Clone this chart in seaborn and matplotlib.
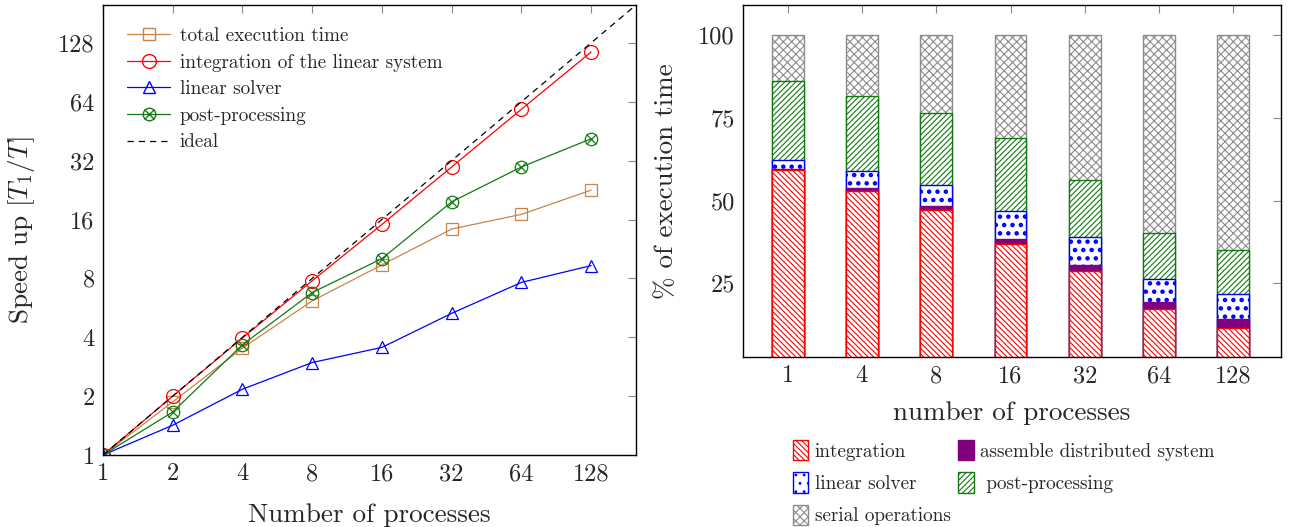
import numpy as np
import pandas as pd
import matplotlib
matplotlib.use("Agg")
import matplotlib.pyplot as plt
import seaborn as sns
from matplotlib.lines import Line2D
from matplotlib.patches import Patch
from matplotlib.legend_handler import HandlerTuple

# ---------------- data ----------------
processes = [1, 2, 4, 8, 16, 32, 64, 128]
speedup_total = [1.0, 1.87, 3.52, 6.14, 9.38, 14.3, 17.0, 22.6]
speedup_integration = [1.0, 2.0, 3.97, 7.78, 15.1, 29.7, 58.6, 115.0]
speedup_solver = [1.0, 1.42, 2.17, 2.97, 3.55, 5.3, 7.63, 9.3]
speedup_post = [1.0, 1.66, 3.66, 6.77, 10.1, 19.7, 29.7, 41.4]
ideal_range = [1, 200]
speedup_ticks = [1, 2, 4, 8, 16, 32, 64, 128]

bar_procs = ["1", "4", "8", "16", "32", "64", "128"]
pct_integration = [59.1, 53.0, 47.0, 37.0, 28.7, 17.3, 11.7]
pct_assemble = [0.4, 0.9, 1.3, 1.5, 1.8, 2.0, 2.6]
pct_solver = [2.7, 4.9, 6.4, 8.3, 8.5, 7.0, 7.6]
pct_post = [24.0, 22.8, 21.6, 22.2, 17.3, 13.8, 13.1]
pct_serial = [13.8, 18.4, 23.7, 31.0, 43.7, 59.9, 65.0]
pct_ticks = [25, 50, 75, 100]

# ---------------- style ----------------
sns.set_style("white")
plt.rcParams["font.family"] = ["cmr10", "DejaVu Serif"]
plt.rcParams["mathtext.fontset"] = "cm"
plt.rcParams["axes.unicode_minus"] = False
plt.rcParams["hatch.linewidth"] = 0.8
plt.rcParams["axes.edgecolor"] = "black"
plt.rcParams["axes.linewidth"] = 1.0

fig = plt.figure(figsize=(12.92, 5.27), dpi=100)
ax1 = fig.add_axes([103 / 1292, 1 - 455 / 527, (636 - 103) / 1292, 450 / 527])
ax2 = fig.add_axes([743 / 1292, 1 - 357 / 527, (1281 - 743) / 1292, 352 / 527])

TICK_FS = 17.5
LAB_FS = 19.5
LEG_FS = 13.8

# ---------------- left: speedup ----------------
df = pd.DataFrame({
    "p": processes * 4,
    "s": speedup_total + speedup_integration + speedup_solver + speedup_post,
    "series": (["total execution time"] * 8 + ["integration of the linear system"] * 8
               + ["linear solver"] * 8 + ["post-processing"] * 8),
})

c_total = "#c8844a"
c_int = "red"
c_sol = "blue"
c_post = "#127a12"
lw = 0.9

sns.lineplot(data=df[df.series == "total execution time"], x="p", y="s", ax=ax1,
             color=c_total, lw=lw, marker="s", ms=9, mfc="none", mec=c_total, mew=0.9)
sns.lineplot(data=df[df.series == "integration of the linear system"], x="p", y="s", ax=ax1,
             color=c_int, lw=lw, marker="o", ms=10, mfc="none", mec=c_int, mew=0.9)
sns.lineplot(data=df[df.series == "linear solver"], x="p", y="s", ax=ax1,
             color=c_sol, lw=lw, marker="^", ms=8, mfc="none", mec=c_sol, mew=0.9)
sns.lineplot(data=df[df.series == "post-processing"], x="p", y="s", ax=ax1,
             color=c_post, lw=lw, marker="o", ms=9, mfc="none", mec=c_post, mew=0.9)
sns.lineplot(data=df[df.series == "post-processing"], x="p", y="s", ax=ax1,
             color=c_post, lw=0, marker="x", ms=6.5, mec=c_post, mew=0.9)
sns.lineplot(x=ideal_range, y=ideal_range, ax=ax1, color="black", lw=0.9,
             linestyle=(0, (5, 4)))

ax1.set_xscale("log", base=2)
ax1.set_yscale("log", base=2)
ax1.set_xlim(1, 200)
ax1.set_ylim(1, 200)
ax1.set_xticks(speedup_ticks)
ax1.set_xticklabels([str(t) for t in speedup_ticks], fontsize=TICK_FS)
ax1.set_yticks(speedup_ticks)
ax1.set_yticklabels([str(t) for t in speedup_ticks], fontsize=TICK_FS)
ax1.minorticks_off()
ax1.tick_params(direction="in", top=True, right=True, length=6, width=0.8,
                color="#888888", pad=6)
ax1.set_xlabel("Number of processes", fontsize=LAB_FS, labelpad=12.5)
ax1.set_ylabel(r"Speed up [$T_1/T$]", fontsize=LAB_FS, labelpad=15)

h_total = Line2D([], [], color=c_total, lw=lw, marker="s", ms=9, mfc="none", mec=c_total)
h_int = Line2D([], [], color=c_int, lw=lw, marker="o", ms=10, mfc="none", mec=c_int)
h_sol = Line2D([], [], color=c_sol, lw=lw, marker="^", ms=8, mfc="none", mec=c_sol)
h_post_a = Line2D([], [], color=c_post, lw=lw, marker="o", ms=9, mfc="none", mec=c_post)
h_post_b = Line2D([], [], color=c_post, lw=0, marker="x", ms=6.5, mec=c_post)
h_ideal = Line2D([], [], color="black", lw=0.9, linestyle=(0, (5, 4)))
ax1.legend([h_total, h_int, h_sol, (h_post_a, h_post_b), h_ideal],
           ["total execution time", "integration of the linear system",
            "linear solver", "post-processing", "ideal"],
           handler_map={tuple: HandlerTuple(ndivide=1, pad=0)},
           loc="upper left", bbox_to_anchor=(0.031, 0.968), frameon=False,
           fontsize=LEG_FS, handlelength=2.25, labelspacing=0.45, handletextpad=0.5,
           borderaxespad=0)

# ---------------- right: stacked bars ----------------
bdf = pd.DataFrame({"p": bar_procs})
cum_int = np.array(pct_integration)
cum_asm = cum_int + np.array(pct_assemble)
cum_sol = cum_asm + np.array(pct_solver)
cum_post = cum_sol + np.array(pct_post)
cum_ser = cum_post + np.array(pct_serial)

c_ser = "#8c8c8c"
layers = [
    (cum_ser, "white", c_ser, "xxxx", 0.8),
    (cum_post, "white", c_post, "//////", 0.8),
    (cum_sol, "white", "blue", "..", 2.0),
    (cum_asm, "purple", "purple", None, 0.8),
    (cum_int, "white", "red", "\\\\\\\\\\\\", 0.8),
]
for cum, fc, ec, hatch, hlw in layers:
    bdf["h"] = cum
    with plt.rc_context({"hatch.linewidth": hlw}):
        sns.barplot(data=bdf, x="p", y="h", ax=ax2, order=bar_procs, color=fc,
                    saturation=1, width=0.43, edgecolor=ec, linewidth=1.0,
                    hatch=hatch, errorbar=None)

ax2.set_xlim(-0.6, 6.64)
ax2.set_ylim(2.8, 109)
ax2.set_yticks(pct_ticks)
ax2.set_yticklabels([str(t) for t in pct_ticks], fontsize=TICK_FS)
ax2.set_xticks(range(len(bar_procs)))
ax2.set_xticklabels(bar_procs, fontsize=TICK_FS)
ax2.tick_params(direction="in", top=True, right=True, length=6, width=0.8,
                color="#888888", pad=6)
ax2.set_xlabel("number of processes", fontsize=LAB_FS, labelpad=10)
ax2.set_ylabel("% of execution time", fontsize=LAB_FS, labelpad=14.5)
for s in ax2.spines.values():
    s.set_visible(True)
    s.set_color("black")

with plt.rc_context({"hatch.linewidth": 0.8}):
    hp_int = Patch(facecolor="white", edgecolor="red", hatch="\\\\\\\\\\\\")
    hp_ser = Patch(facecolor="white", edgecolor=c_ser, hatch="xxxx")
    hp_asm = Patch(facecolor="purple", edgecolor="purple")
    hp_post = Patch(facecolor="white", edgecolor=c_post, hatch="//////")
with plt.rc_context({"hatch.linewidth": 2.0}):
    hp_sol = Patch(facecolor="white", edgecolor="blue", hatch="..")
ax2.legend([hp_int, hp_sol, hp_ser, hp_asm, hp_post],
           ["integration", "linear solver", "serial operations",
            "assemble distributed system", " post-processing"],
           ncol=2, loc="upper left", bbox_to_anchor=(0.078, -0.214), frameon=False,
           fontsize=LEG_FS, handlelength=0.8, handleheight=1.25, handletextpad=0.35,
           labelspacing=0.62, columnspacing=0.4, borderaxespad=0)

fig.savefig("out.png", dpi=100)
